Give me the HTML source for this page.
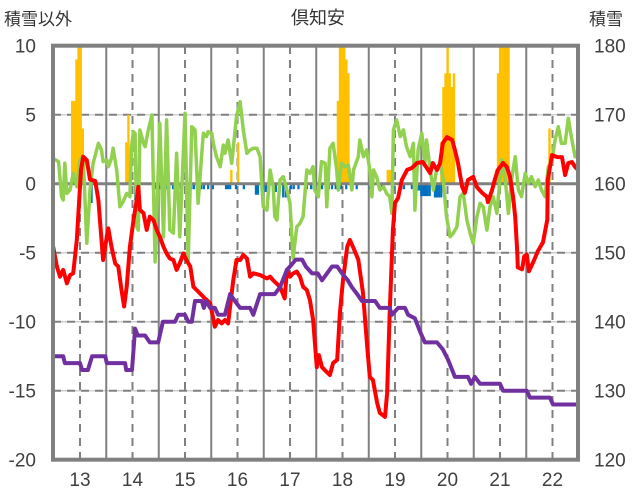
<!DOCTYPE html>
<html><head><meta charset="utf-8"><style>
html,body{margin:0;padding:0;background:#fff;}
svg{display:block;font-family:"Liberation Sans","Noto Sans CJK JP",sans-serif;}
</style></head><body>
<svg id="chart" width="636" height="501" viewBox="0 0 636 501">
<defs><clipPath id="plotclip"><rect x="53" y="45.7" width="525" height="414"/></clipPath></defs>
<g id="grid"></g>
<g id="bars" clip-path="url(#plotclip)"></g>
<g id="lines" clip-path="url(#plotclip)"></g>
<g id="frame"></g>
<g id="labels"></g>
<text x="318" y="24" font-size="18" fill="#333" text-anchor="middle">倶知安</text>
<text x="4" y="25" font-size="17" fill="#333">積雪以外</text>
<text x="589" y="25" font-size="17" fill="#333">積雪</text>
</svg>
<script>
const dayLabels=[13,14,15,16,17,18,19,20,21,22];
const leftTicks=[10,5,0,-5,-10,-15,-20];
const rightTicks=[180,170,160,150,140,130,120];

const tempT=[12.49,12.56,12.62,12.68,12.75,12.81,12.87,12.94,13.0,13.02,13.06,13.13,13.19,13.29,13.35,13.41,13.44,13.51,13.54,13.6,13.67,13.73,13.79,13.84,13.89,13.95,14.02,14.08,14.11,14.14,14.21,14.27,14.33,14.4,14.46,14.52,14.59,14.65,14.71,14.78,14.84,14.9,14.97,15.03,15.1,15.16,15.22,15.35,15.41,15.48,15.57,15.63,15.7,15.76,15.82,15.86,15.92,15.98,16.05,16.11,16.18,16.24,16.3,16.43,16.56,16.62,16.68,16.81,16.9,16.94,17.0,17.06,17.13,17.19,17.25,17.32,17.38,17.44,17.51,17.55,17.61,17.7,17.76,17.82,17.9,17.95,18.01,18.09,18.14,18.2,18.3,18.39,18.47,18.52,18.58,18.66,18.71,18.81,18.85,18.9,18.96,19.0,19.06,19.13,19.23,19.32,19.42,19.53,19.67,19.72,19.8,19.86,19.91,19.99,20.09,20.14,20.2,20.28,20.33,20.39,20.49,20.56,20.66,20.75,20.77,20.85,20.9,20.96,21.06,21.13,21.19,21.25,21.29,21.33,21.34,21.42,21.46,21.51,21.55,21.63,21.72,21.82,21.9,21.91,21.99,22.09,22.18,22.24,22.3,22.37,22.43,22.49];
const tempV=[-4.57,-6.01,-6.74,-6.25,-7.22,-6.62,-6.49,-4.08,-0.22,1.0,1.96,1.7,0.3,0.2,-1.19,-4.08,-5.53,-3.85,-3.24,-4.57,-5.78,-6.01,-7.7,-8.9,-7.47,-4.57,-2.64,-1.19,-0.22,-1.9,-2.13,-3.35,-2.39,-2.64,-3.35,-3.83,-4.57,-5.05,-5.41,-5.53,-6.25,-5.77,-5.05,-5.55,-6.01,-7.47,-7.7,-8.2,-8.42,-8.67,-10.36,-9.88,-10.12,-9.88,-10.12,-8.9,-6.98,-5.53,-5.53,-5.16,-5.41,-6.73,-6.49,-6.62,-6.86,-6.73,-7.0,-7.47,-8.31,-6.25,-6.74,-6.5,-6.37,-6.74,-7.47,-7.7,-8.42,-9.86,-13.3,-12.42,-13.3,-13.65,-13.86,-12.99,-12.77,-9.36,-6.98,-4.58,-4.07,-4.58,-5.5,-7.92,-11.8,-14.0,-14.22,-15.9,-16.6,-16.9,-15.2,-9.36,-3.35,-1.39,-1.03,0.27,1.0,1.14,1.5,1.57,0.77,1.5,0.99,1.5,2.94,3.38,3.17,2.44,1.5,-0.24,-0.67,0.27,0.49,-0.24,-0.67,-0.96,-1.33,-0.46,0.27,0.99,1.5,1.22,0.49,-0.96,-2.4,-5.0,-6.06,-6.2,-5.27,-5.13,-6.35,-5.7,-4.9,-4.25,-2.6,0.27,2.07,1.93,1.93,0.63,1.5,1.57,1.22,0.99];

const greenT=[12.49,12.59,12.65,12.68,12.71,12.75,12.81,12.87,12.94,13.0,13.06,13.13,13.19,13.25,13.35,13.41,13.44,13.51,13.54,13.6,13.63,13.7,13.76,13.82,13.89,13.95,13.98,14.02,14.05,14.08,14.11,14.14,14.21,14.24,14.3,14.37,14.43,14.52,14.59,14.65,14.71,14.78,14.84,14.9,15.0,15.06,15.13,15.19,15.25,15.32,15.35,15.41,15.44,15.51,15.54,15.6,15.67,15.73,15.76,15.82,15.89,15.98,16.05,16.11,16.18,16.24,16.3,16.37,16.43,16.49,16.56,16.62,16.68,16.71,16.75,16.81,16.87,16.94,17.0,17.06,17.13,17.19,17.25,17.32,17.38,17.44,17.47,17.54,17.6,17.67,17.7,17.76,17.82,17.89,17.92,17.98,18.05,18.11,18.18,18.21,18.3,18.33,18.4,18.46,18.52,18.56,18.59,18.65,18.71,18.78,18.84,18.9,18.94,18.97,19.03,19.1,19.16,19.22,19.29,19.35,19.38,19.44,19.51,19.57,19.6,19.67,19.73,19.79,19.86,19.92,19.98,20.05,20.11,20.18,20.24,20.3,20.37,20.43,20.49,20.56,20.62,20.68,20.75,20.81,20.87,20.94,21.03,21.1,21.16,21.22,21.29,21.35,21.41,21.48,21.54,21.6,21.67,21.73,21.79,21.86,21.92,21.98,22.05,22.11,22.17,22.24,22.3,22.37,22.43,22.49];
const greenV=[1.84,1.6,-0.94,-1.18,1.48,-0.7,-0.46,0.75,-0.22,1.72,1.96,-4.32,-0.46,1.48,2.93,2.44,1.6,1.72,1.23,1.84,2.57,0.99,-1.67,-1.3,-0.7,-0.94,2.68,3.77,3.65,-3.12,-3.36,3.89,2.93,2.68,3.89,4.98,-5.67,4.38,-3.84,4.62,-3.36,-3.59,2.2,-3.84,5.1,-5.53,4.13,3.89,-1.42,2.2,3.65,3.41,3.77,3.65,2.93,1.96,1.23,2.8,2.2,3.17,1.48,4.86,5.94,3.89,2.2,2.44,2.57,2.57,1.96,-1.67,-1.91,0.99,-0.22,-2.39,-2.63,0.27,0.51,-0.46,-1.42,-5.39,-3.12,-2.87,-2.39,0.99,0.75,1.23,-0.46,-0.94,1.6,1.48,-1.67,2.57,2.93,0.99,-0.46,1.48,1.23,1.36,-0.46,0.99,1.96,3.17,1.96,2.44,0.99,-0.94,0.99,0.51,-0.46,-0.22,-0.7,-0.94,-2.15,3.89,4.62,3.41,3.89,2.68,1.96,2.93,-1.91,2.44,3.65,1.48,3.17,0.99,-0.46,0.99,1.48,0.27,-2.39,-3.84,-3.59,-3.12,-0.94,-0.7,-2.63,-3.59,-4.32,-2.39,-1.42,-1.67,-3.36,-1.67,-0.94,-2.15,1.72,0.27,-2.15,0.27,1.96,-0.46,-0.94,0.75,0.03,0.51,-0.22,0.27,-0.46,-0.94,1.23,1.48,3.17,4.13,2.93,2.93,4.74,3.17,1.96,2.2];

const depthT=[12.49,12.68,12.71,13.0,13.04,13.15,13.23,13.48,13.51,13.86,13.88,13.99,14.05,14.1,14.24,14.33,14.49,14.58,14.81,14.87,15.0,15.06,15.13,15.19,15.32,15.36,15.4,15.48,15.57,15.63,15.76,15.86,15.95,16.05,16.24,16.3,16.43,16.71,16.81,16.94,17.0,17.11,17.23,17.3,17.42,17.53,17.61,17.8,17.9,17.99,18.1,18.18,18.28,18.37,18.62,18.71,18.9,18.94,19.06,19.19,19.25,19.38,19.48,19.57,19.8,19.91,20.01,20.14,20.39,20.45,20.52,20.62,21.0,21.06,21.51,21.57,21.95,22.01,22.49];
const depthV=[135,135,134,134,133,133,135,135,134,134,133,133,139,138,138,137,137,140,140,141,141,140,140,143,143,142,143,142,142,141,141,144,143,142,142,141,144,144,145,147.5,148,149,149,148,147,147,146,148,148,147,146,145,144,143,143,142,142,141,142,142,141,140.5,138.5,137,137,136,134.5,132,132,131,132,131,131,130,130,129,129,128,128];

const snowT=[12.83,12.87,12.91,12.95,12.99,13.03,13.86,13.9,15.86,15.99,17.89,17.93,17.97,18.01,18.05,18.09,18.84,18.88,19.86,19.9,19.94,19.98,20.02,20.06,20.1,20.9,20.94,20.98,21.02,21.06,21.1,21.14,21.92];
const snowV=[6,6,9,12,12,4,3,5,1,3,6,12,12,12,9,8,1,1,3,7,8,11,8,7,8,1,8,12,12,12,12,12,4];

const minusT=[13.2,14.03,14.37,14.43,14.49,14.54,14.62,14.68,14.75,14.85,14.9,15.0,15.1,15.15,15.23,15.29,15.34,15.42,15.51,15.76,15.8,15.84,15.95,16.1,16.33,16.37,16.47,16.52,16.58,16.71,16.85,16.9,17.0,17.05,17.14,17.3,17.38,17.43,17.53,17.59,17.72,17.78,17.85,17.95,18.05,18.25,18.5,18.73,18.95,19.1,19.15,19.3,19.4,19.44,19.48,19.52,19.56,19.6,19.64,19.74,19.78,19.82,19.86];
const minusV=[-1.4,-1.2,-0.4,-0.4,-0.4,-0.4,-0.4,-0.4,-0.4,-0.4,-0.4,-0.4,-0.4,-0.4,-0.4,-0.4,-0.4,-0.4,-0.4,-0.4,-0.4,-0.4,-0.4,-0.4,-0.8,-0.8,-0.6,-0.6,-0.6,-0.6,-1,-1,-0.4,-0.4,-0.4,-0.4,-0.4,-0.4,-0.4,-0.4,-0.4,-0.4,-0.4,-0.4,-0.4,-0.4,-0.4,-0.4,-0.4,-0.4,-0.4,-0.4,-0.5,-0.5,-0.9,-0.9,-0.9,-0.9,-0.9,-1,-1,-1,-1];

const NS='http://www.w3.org/2000/svg';
function X(t){return 80+(t-13)*52.5;}
function YL(v){return 183.7-v*13.8;}
function YR(s){return YL((s-160)/2);}
function mk(tag,attrs,parent){const e=document.createElementNS(NS,tag);for(const k in attrs)e.setAttribute(k,attrs[k]);parent.appendChild(e);return e;}

const grid=document.getElementById('grid');
[5,-5,-10,-15].forEach(v=>{
  const l1=mk('line',{x1:53,x2:578,y1:YL(v),y2:YL(v),stroke:'#d0d0d0','stroke-width':1.5},grid);
  
  
  const l2=mk('line',{x1:53,x2:578,y1:YL(v),y2:YL(v),stroke:'#808080','stroke-width':2,'stroke-dasharray':'8,6'},grid);
  
  
});
dayLabels.forEach(d=>{
  const l=mk('line',{x1:X(d),x2:X(d),y1:46,y2:460,stroke:'#808080','stroke-width':2,'stroke-dasharray':'8,6'},grid);
  
  
  if(d<22){const s=mk('line',{x1:X(d+0.5),x2:X(d+0.5),y1:46,y2:460,stroke:'#808080','stroke-width':2},grid);
  
  }
});

const bars=document.getElementById('bars');
const bw=52.5/24;
snowT.forEach((t,i)=>{const v=snowV[i];
  const r=mk('rect',{x:X(t),y:YL(v),width:bw+0.2,height:YL(0)-YL(v),fill:'#FFC000'},bars);
  
  });
minusT.forEach((t,i)=>{const v=minusV[i];
  const r=mk('rect',{x:X(t),y:YL(0),width:bw,height:YL(v)-YL(0),fill:'#0070C0'},bars);
  
  });

const lines=document.getElementById('lines');
function path(ts,vs,yf,color,w,name){
  const d=ts.map((t,i)=>(i?'L':'M')+X(t).toFixed(1)+','+yf(vs[i]).toFixed(1)).join('');
  const p=mk('path',{d:d,fill:'none',stroke:color,'stroke-width':w,'stroke-linejoin':'round','stroke-linecap':'round'},lines);
  
  
}
const z=mk('line',{x1:53,x2:578,y1:YL(0),y2:YL(0),stroke:'#808080','stroke-width':3},bars);


path(greenT,greenV,YL,'#92D050',3.5,'green-series-line');
path(tempT,tempV,YL,'#FF0000',4,'temperature-line');
path(depthT,depthV,YR,'#7030A0',4,'snow-depth-line');

const frame=document.getElementById('frame');
const fr=mk('rect',{x:53,y:45.7,width:525,height:414,fill:'none',stroke:'#808080','stroke-width':4},frame);



const labels=document.getElementById('labels');
leftTicks.forEach(v=>{const t=mk('text',{x:36,y:YL(v)+7,'font-size':19,fill:'#404040','text-anchor':'end'},labels);t.textContent=v;
  
  });
rightTicks.forEach(s=>{const t=mk('text',{x:594,y:YR(s)+7,'font-size':19,fill:'#404040'},labels);t.textContent=s;
  
  });
dayLabels.forEach(d=>{const t=mk('text',{x:X(d),y:486,'font-size':19,fill:'#404040','text-anchor':'middle'},labels);t.textContent=d;
  
  });
</script>
</body></html>
